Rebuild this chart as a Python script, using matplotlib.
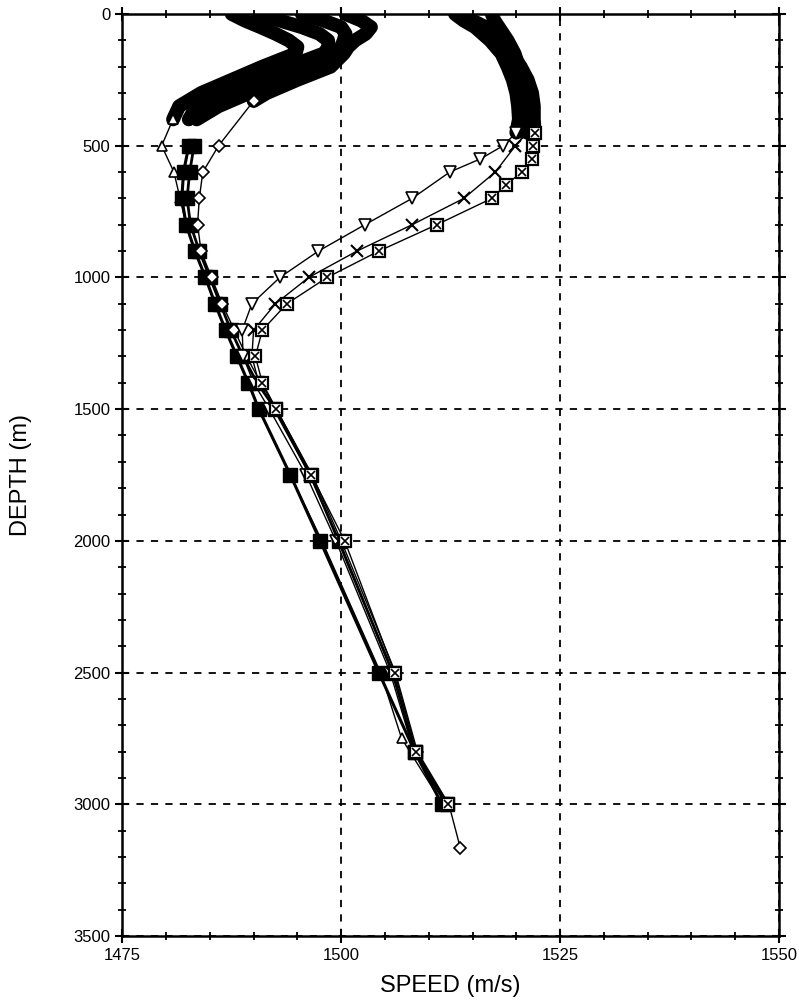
#!/usr/bin/env python3

import matplotlib
matplotlib.use("Agg")
import matplotlib.pyplot as plt
from matplotlib.ticker import MultipleLocator

# shallow CTD traces (dense, plotted as a thick band) and the deeper bottle
# samples (plotted with markers), depth in m, speed in m/s
shallow_depth = [0, 25, 50, 75, 100, 125, 150, 200, 250, 300, 350, 400]

tri_up_shallow = [1487.5, 1489.0, 1490.8, 1492.5, 1494.0, 1495.0, 1494.8, 1491.0, 1487.5, 1484.0, 1481.5, 1480.8]
tri_up_depth = [400, 500, 600, 700, 800, 900, 1000, 1100, 1200, 1300, 1400, 1500, 1750, 2000, 2500, 2750, 3000]
tri_up_speed = [1480.8, 1479.5, 1480.9, 1481.6, 1482.3, 1483.3, 1484.5, 1485.6, 1486.8, 1488.1, 1489.4, 1490.6, 1494.2, 1497.8, 1504.5, 1506.9, 1511.6]

sqA_shallow = [1490.5, 1493.0, 1495.5, 1497.5, 1498.5, 1498.6, 1498.0, 1494.0, 1490.0, 1486.5, 1483.5, 1482.6]
sqA_depth = [500, 600, 700, 800, 900, 1000, 1100, 1200, 1300, 1400, 1500, 1750, 2000, 2500, 2800, 3000]
sqA_speed = [1482.6, 1482.0, 1481.8, 1482.3, 1483.3, 1484.5, 1485.6, 1486.8, 1488.1, 1489.4, 1490.6, 1494.2, 1497.6, 1504.3, 1508.4, 1511.5]

sqB_shallow = [1495.5, 1498.0, 1500.0, 1500.5, 1500.3, 1500.0, 1499.8, 1497.5, 1493.5, 1489.5, 1486.0, 1483.5]
sqB_depth = [500, 600, 700, 800, 900, 1000, 1100, 1200, 1300, 1400, 1500, 1750, 2000, 2500, 2800, 3000]
sqB_speed = [1483.2, 1482.7, 1482.4, 1482.8, 1483.8, 1485.0, 1486.2, 1487.4, 1488.8, 1490.4, 1492.5, 1496.5, 1499.7, 1505.9, 1508.4, 1512.1]

dia_shallow_depth = [0, 25, 50, 75, 100, 125, 150, 200, 250, 300, 330]
dia_shallow = [1500.5, 1502.3, 1503.4, 1502.8, 1501.6, 1500.8, 1500.3, 1498.8, 1495.0, 1491.5, 1490.0]
dia_depth = [330, 500, 600, 700, 800, 900, 1000, 1100, 1200, 1300, 1400, 1500, 1750, 2000, 2500, 2800, 3000, 3165]
dia_speed = [1490.0, 1486.0, 1484.2, 1483.8, 1483.6, 1484.0, 1485.2, 1486.4, 1487.8, 1489.2, 1490.8, 1492.6, 1496.7, 1500.0, 1506.2, 1508.7, 1512.3, 1513.6]

warm_depth = [0, 25, 50, 100, 150, 200, 250, 300, 350, 400, 450]

tri_dn_shallow = [1513.0, 1514.0, 1515.3, 1517.0, 1518.3, 1519.0, 1519.6, 1520.0, 1520.2, 1520.3, 1520.0]
tri_dn_depth = [450, 500, 550, 600, 700, 800, 900, 1000, 1100, 1200, 1300, 1400, 1500, 1750, 2000, 2500, 2800, 3000]
tri_dn_speed = [1520.0, 1518.5, 1515.9, 1512.4, 1508.1, 1502.7, 1497.4, 1493.0, 1489.8, 1488.7, 1488.8, 1490.0, 1491.8, 1496.0, 1499.4, 1505.6, 1508.3, 1511.9]

cross_shallow = [1517.2, 1517.5, 1518.0, 1519.0, 1519.8, 1520.3, 1520.8, 1521.0, 1521.2, 1521.3, 1521.2]
cross_depth = [450, 500, 600, 700, 800, 900, 1000, 1100, 1200, 1300, 1400, 1500, 1750, 2000, 2500, 2800, 3000]
cross_speed = [1521.2, 1519.9, 1517.6, 1514.0, 1508.1, 1501.8, 1496.3, 1492.5, 1490.0, 1489.8, 1490.6, 1492.3, 1496.4, 1499.8, 1505.8, 1508.5, 1512.0]

box_shallow = [1513.5, 1515.0, 1516.5, 1518.0, 1519.5, 1520.5, 1521.3, 1521.8, 1522.0, 1522.0, 1522.1]
box_depth = [450, 500, 550, 600, 650, 700, 800, 900, 1000, 1100, 1200, 1300, 1400, 1500, 1750, 2000, 2500, 2800, 3000]
box_speed = [1522.1, 1521.9, 1521.8, 1520.6, 1518.8, 1517.2, 1510.9, 1504.3, 1498.4, 1493.8, 1491.0, 1490.2, 1491.0, 1492.6, 1496.6, 1500.4, 1506.1, 1508.6, 1512.2]

fs_ticklabel = 12
fs_axlabel = 17
font = ["Liberation Sans Narrow", "Liberation Sans", "DejaVu Sans"]

fig = plt.figure(figsize=(7.99, 10), dpi=100)
ax = fig.add_axes([0.153, 0.064, 0.822, 0.922])

# thick bands for the densely sampled upper layer
band = dict(color="black", lw=10, solid_capstyle="round", solid_joinstyle="round", zorder=3)
ax.plot(tri_up_shallow, shallow_depth, **band)
ax.plot(sqA_shallow, shallow_depth, **band)
ax.plot(sqB_shallow, shallow_depth, **band)
ax.plot(dia_shallow, dia_shallow_depth, **band)
ax.plot(tri_dn_shallow, warm_depth, **band)
ax.plot(cross_shallow, warm_depth, **band)
ax.plot(box_shallow, warm_depth, **band)

# bottle samples
thin = dict(color="black", lw=1.0, zorder=4)
ax.plot(tri_up_speed, tri_up_depth, marker="^", ms=7, mfc="white", mec="black", mew=1.2, **thin)
ax.plot(sqA_speed, sqA_depth, marker="s", ms=10, mfc="black", mec="black", **dict(thin, lw=2.2))
ax.plot(sqB_speed, sqB_depth, marker="s", ms=10, mfc="black", mec="black", **dict(thin, lw=2.0))
ax.plot(dia_speed, dia_depth, marker="D", ms=6, mfc="white", mec="black", mew=1.2, **thin)
ax.plot(tri_dn_speed, tri_dn_depth, marker="v", ms=8, mfc="white", mec="black", mew=1.2, **thin)
ax.plot(cross_speed, cross_depth, marker="x", ms=9, mec="black", mew=1.5, **thin)
ax.plot(box_speed, box_depth, marker="s", ms=9, mfc="white", mec="black", mew=1.6, **thin)
ax.plot(box_speed, box_depth, ls="none", marker="x", ms=6, mec="black", mew=1.2, zorder=5)

ax.set_xlim(1475, 1550)
ax.set_ylim(3500, 0)
ax.xaxis.set_major_locator(MultipleLocator(25))
ax.xaxis.set_minor_locator(MultipleLocator(5))
ax.yaxis.set_major_locator(MultipleLocator(500))
ax.yaxis.set_minor_locator(MultipleLocator(100))

ax.grid(True, which="major", color="black", ls=(0, (4, 4)), lw=1.3)
ax.tick_params(which="both", direction="inout", top=True, right=True,
               labeltop=False, labelright=False)
ax.tick_params(which="major", length=10, width=1.5, labelsize=fs_ticklabel)
ax.tick_params(which="minor", length=6, width=1.3)
for spine in ax.spines.values():
    spine.set_linewidth(1.8)
for lab in ax.get_xticklabels() + ax.get_yticklabels():
    lab.set_family(font)

ax.set_xlabel("SPEED (m/s)", fontsize=fs_axlabel, family=font, labelpad=9)
ax.set_ylabel("DEPTH (m)", fontsize=fs_axlabel, family=font, labelpad=30)

plt.savefig("out.png", dpi=100)
